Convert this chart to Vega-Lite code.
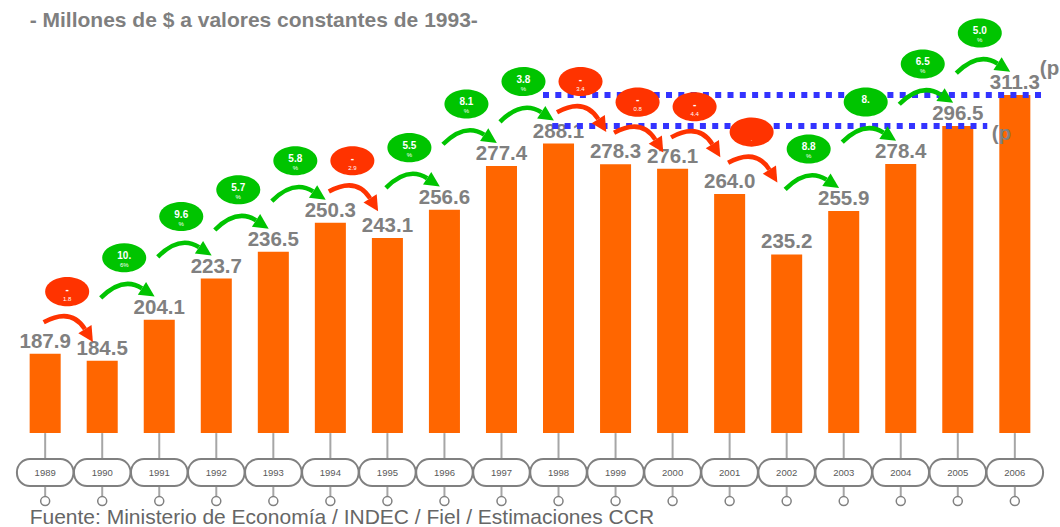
{
  "$schema": "https://vega.github.io/schema/vega-lite/v6.json",
  "width": 1060,
  "height": 527,
  "padding": 0,
  "autosize": "none",
  "background": "white",
  "config": {"view": {"stroke": null}, "font": "Liberation Sans"},
  "datasets": {
    "gdp": [
      {"year": "1989", "value": 187.9},
      {"year": "1990", "value": 184.5},
      {"year": "1991", "value": 204.1},
      {"year": "1992", "value": 223.7},
      {"year": "1993", "value": 236.5},
      {"year": "1994", "value": 250.3},
      {"year": "1995", "value": 243.1},
      {"year": "1996", "value": 256.6},
      {"year": "1997", "value": 277.4},
      {"year": "1998", "value": 288.1},
      {"year": "1999", "value": 278.3},
      {"year": "2000", "value": 276.1},
      {"year": "2001", "value": 264.0},
      {"year": "2002", "value": 235.2},
      {"year": "2003", "value": 255.9},
      {"year": "2004", "value": 278.4},
      {"year": "2005", "value": 296.5},
      {"year": "2006", "value": 311.3}
    ],
    "growth": [
      {"year": "1990", "prev": "1989", "hi": 187.9, "dir": "down", "t1": "-", "t2": "1.8"},
      {"year": "1991", "prev": "1990", "hi": 204.1, "dir": "up", "t1": "10.", "t2": "6%"},
      {"year": "1992", "prev": "1991", "hi": 223.7, "dir": "up", "t1": "9.6", "t2": "%"},
      {"year": "1993", "prev": "1992", "hi": 236.5, "dir": "up", "t1": "5.7", "t2": "%"},
      {"year": "1994", "prev": "1993", "hi": 250.3, "dir": "up", "t1": "5.8", "t2": "%"},
      {"year": "1995", "prev": "1994", "hi": 250.3, "dir": "down", "t1": "-", "t2": "2.9"},
      {"year": "1996", "prev": "1995", "hi": 256.6, "dir": "up", "t1": "5.5", "t2": "%"},
      {"year": "1997", "prev": "1996", "hi": 277.4, "dir": "up", "t1": "8.1", "t2": "%"},
      {"year": "1998", "prev": "1997", "hi": 288.1, "dir": "up", "t1": "3.8", "t2": "%"},
      {"year": "1999", "prev": "1998", "hi": 288.1, "dir": "down", "t1": "-", "t2": "3.4"},
      {"year": "2000", "prev": "1999", "hi": 278.3, "dir": "down", "t1": "-", "t2": "0.8"},
      {"year": "2001", "prev": "2000", "hi": 276.1, "dir": "down", "t1": "-", "t2": "4.4"},
      {"year": "2002", "prev": "2001", "hi": 264.0, "dir": "down", "t1": "", "t2": "."},
      {"year": "2003", "prev": "2002", "hi": 255.9, "dir": "up", "t1": "8.8", "t2": "%"},
      {"year": "2004", "prev": "2003", "hi": 278.4, "dir": "up", "t1": "8.", "t2": ""},
      {"year": "2005", "prev": "2004", "hi": 296.5, "dir": "up", "t1": "6.5", "t2": "%"},
      {"year": "2006", "prev": "2005", "hi": 311.3, "dir": "up", "t1": "5.0", "t2": "%"}
    ],
    "levels": [
      {"from": "1998", "to": "2006", "level": 311.3, "note": "(p"},
      {"from": "1998", "to": "2005", "level": 296.5, "note": "(p"}
    ],
    "notes": [
      {"kind": "title", "text": "- Millones de $ a valores constantes de 1993-"},
      {"kind": "source", "text": "Fuente: Ministerio de Economía / INDEC / Fiel / Estimaciones CCR"}
    ]
  },
  "resolve": {"scale": {"shape": "independent"}},
  "layer": [
    {
      "data": {"name": "gdp"},
      "mark": {"type": "rule", "color": "#a6a6a6", "strokeWidth": 2},
      "encoding": {
        "x": {"field": "year", "type": "nominal", "axis": null, "scale": {"type": "band", "paddingInner": 0.456, "paddingOuter": 0.52}},
        "y": {"datum": 150, "type": "quantitative", "axis": null, "scale": {"domain": [105.2, 356.6], "nice": false, "zero": false}},
        "y2": {"datum": 119.7}
      }
    },
    {
      "data": {"name": "gdp"},
      "mark": {"type": "bar", "color": "#ff6600"},
      "encoding": {
        "x": {"field": "year", "type": "nominal", "axis": null},
        "y": {"field": "value", "type": "quantitative", "axis": null},
        "y2": {"datum": 150}
      }
    },
    {
      "data": {"name": "gdp"},
      "mark": {"type": "rect", "fill": "white", "stroke": "#808080", "strokeWidth": 2, "cornerRadius": 13, "width": {"band": 1.82}},
      "encoding": {
        "x": {"field": "year", "type": "nominal", "axis": null},
        "y": {"datum": 137.6, "type": "quantitative", "axis": null},
        "y2": {"datum": 124.7}
      }
    },
    {
      "data": {"name": "gdp"},
      "mark": {"type": "text", "fontSize": 9.5, "color": "#595959", "baseline": "middle"},
      "encoding": {
        "x": {"field": "year", "type": "nominal", "axis": null},
        "y": {"datum": 130.9, "type": "quantitative", "axis": null},
        "text": {"field": "year"}
      }
    },
    {
      "data": {"name": "gdp"},
      "mark": {"type": "point", "shape": "circle", "size": 81, "filled": true, "fill": "white", "stroke": "#808080", "strokeWidth": 1.5, "opacity": 1},
      "encoding": {
        "x": {"field": "year", "type": "nominal", "axis": null},
        "y": {"datum": 117.56, "type": "quantitative", "axis": null}
      }
    },
    {
      "data": {"name": "notes"},
      "transform": [{"filter": "datum.kind == 'source'"}],
      "mark": {"type": "text", "fontSize": 21, "color": "#666666", "align": "left", "baseline": "alphabetic"},
      "encoding": {
        "x": {"datum": "1989", "type": "nominal", "bandPosition": 0, "axis": null},
        "y": {"datum": 106.6, "type": "quantitative", "axis": null},
        "text": {"field": "text"}
      }
    },
    {
      "data": {"name": "notes"},
      "transform": [{"filter": "datum.kind == 'title'"}],
      "mark": {"type": "text", "fontSize": 21, "fontWeight": "bold", "color": "#7f7f7f", "align": "left", "baseline": "alphabetic"},
      "encoding": {
        "x": {"datum": "1989", "type": "nominal", "bandPosition": 0, "axis": null},
        "y": {"datum": 343.8, "type": "quantitative", "axis": null},
        "text": {"field": "text"}
      }
    },
    {
      "data": {"name": "gdp"},
      "mark": {"type": "text", "fontSize": 20.5, "fontWeight": "bold", "color": "#808080", "dy": -6, "baseline": "alphabetic"},
      "encoding": {
        "x": {"field": "year", "type": "nominal", "axis": null},
        "y": {"field": "value", "type": "quantitative", "axis": null},
        "text": {"field": "value", "type": "quantitative", "format": ".1f"}
      }
    },
    {
      "data": {"name": "levels"},
      "transform": [{"filter": "datum.to == '2006'"}],
      "mark": {"type": "rule", "color": "#3333ff", "strokeWidth": 6, "strokeDash": [6, 6.3]},
      "encoding": {
        "x": {"field": "from", "type": "nominal", "bandPosition": 0, "axis": null},
        "x2": {"field": "to", "bandPosition": 1.4},
        "y": {"field": "level", "type": "quantitative", "axis": null}
      }
    },
    {
      "data": {"name": "levels"},
      "transform": [{"filter": "datum.to == '2005'"}],
      "mark": {"type": "rule", "color": "#3333ff", "strokeWidth": 6, "strokeDash": [6, 6.3]},
      "encoding": {
        "x": {"field": "from", "type": "nominal", "bandPosition": 0.3, "axis": null},
        "x2": {"field": "to", "bandPosition": 1.45},
        "y": {"field": "level", "type": "quantitative", "axis": null}
      }
    },
    {
      "data": {"name": "levels"},
      "transform": [{"filter": "datum.to == '2006'"}],
      "mark": {"type": "text", "fontSize": 20.5, "fontWeight": "bold", "color": "#808080", "align": "left", "baseline": "alphabetic", "dx": 25, "dy": -20},
      "encoding": {
        "x": {"field": "to", "type": "nominal", "axis": null},
        "y": {"field": "level", "type": "quantitative", "axis": null},
        "text": {"field": "note"}
      }
    },
    {
      "data": {"name": "levels"},
      "transform": [{"filter": "datum.to == '2005'"}],
      "mark": {"type": "text", "fontSize": 20.5, "fontWeight": "bold", "color": "#808080", "align": "left", "baseline": "alphabetic", "dx": 34, "dy": 14},
      "encoding": {
        "x": {"field": "to", "type": "nominal", "axis": null},
        "y": {"field": "level", "type": "quantitative", "axis": null},
        "text": {"field": "note"}
      }
    },
    {
      "data": {"name": "growth"},
      "mark": {"type": "point", "filled": false, "strokeWidth": 4.5, "size": 3025, "opacity": 1, "xOffset": 26, "yOffset": -30},
      "encoding": {
        "x": {"field": "prev", "type": "nominal", "axis": null},
        "y": {"field": "hi", "type": "quantitative", "axis": null},
        "shape": {"field": "dir", "type": "nominal", "legend": null, "scale": {"domain": ["up", "down"], "range": ["M -1 0.3 Q -0.2 -0.5 0.5 -0.05", "M -1 -0.05 Q 0 -0.6 0.5 0.2"]}},
        "color": {"field": "dir", "type": "nominal", "legend": null, "scale": {"domain": ["up", "down"], "range": ["#00c400", "#ff3300"]}}
      }
    },
    {
      "data": {"name": "growth"},
      "mark": {"type": "point", "filled": true, "strokeWidth": 0, "size": 3025, "opacity": 1, "xOffset": 26, "yOffset": -30},
      "encoding": {
        "x": {"field": "prev", "type": "nominal", "axis": null},
        "y": {"field": "hi", "type": "quantitative", "axis": null},
        "shape": {"field": "dir", "type": "nominal", "legend": null, "scale": {"domain": ["up", "down"], "range": ["M 0.96 0.25 L 0.35 0.18 L 0.65 -0.28 Z", "M 0.79 0.67 L 0.26 0.35 L 0.74 0.05 Z"]}},
        "color": {"field": "dir", "type": "nominal", "legend": null}
      }
    },
    {
      "data": {"name": "growth"},
      "mark": {"type": "point", "filled": true, "strokeWidth": 0, "size": 1936, "opacity": 1, "xOffset": 22, "yOffset": -62, "shape": "M -1 0 A 1 0.66 0 1 1 1 0 A 1 0.66 0 1 1 -1 0 Z"},
      "encoding": {
        "x": {"field": "prev", "type": "nominal", "axis": null},
        "y": {"field": "hi", "type": "quantitative", "axis": null},
        "color": {"field": "dir", "type": "nominal", "legend": null}
      }
    },
    {
      "data": {"name": "growth"},
      "mark": {"type": "text", "fontSize": 10, "fontWeight": "bold", "color": "white", "baseline": "middle", "dx": 22, "dy": -64},
      "encoding": {
        "x": {"field": "prev", "type": "nominal", "axis": null},
        "y": {"field": "hi", "type": "quantitative", "axis": null},
        "text": {"field": "t1"}
      }
    },
    {
      "data": {"name": "growth"},
      "mark": {"type": "text", "fontSize": 6, "color": "white", "baseline": "middle", "dx": 22, "dy": -55},
      "encoding": {
        "x": {"field": "prev", "type": "nominal", "axis": null},
        "y": {"field": "hi", "type": "quantitative", "axis": null},
        "text": {"field": "t2"}
      }
    }
  ]
}
